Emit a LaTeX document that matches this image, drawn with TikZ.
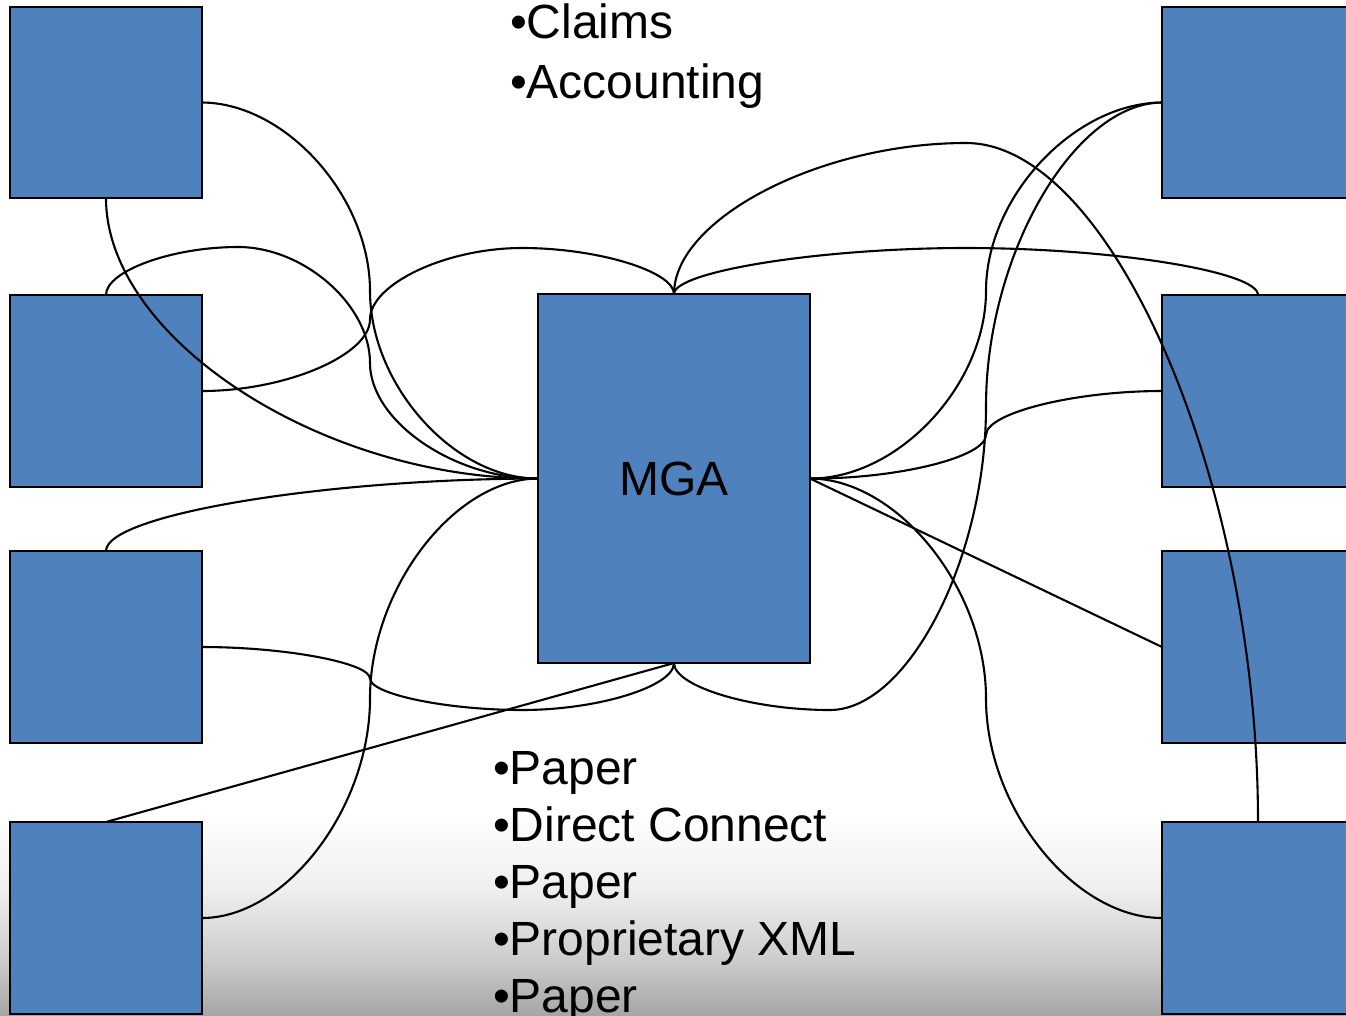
\documentclass[tikz,border=0pt]{standalone}
\usepackage{fontspec}
\setmainfont{Liberation Sans}
\definecolor{boxblue}{HTML}{4F81BD}
\definecolor{bgA}{HTML}{EEEEEE}
\definecolor{bgB}{HTML}{CCCCCC}
\definecolor{bgC}{HTML}{A5A5A5}
\tikzset{
  box/.style={draw=black, line width=2.2pt, fill=boxblue, minimum width=192pt, minimum height=192pt, inner sep=0pt, outer sep=0pt},
  conn/.style={draw=black, line width=2.1pt},
  lbl/.style={anchor=base west, inner sep=0pt, outer sep=0pt, font=\fontsize{48}{56}\selectfont}
}
\begin{document}
\begin{tikzpicture}[x=1pt,y=-1pt]
\clip (0,0) rectangle (1346,1015);
\fill[white] (0,0) rectangle (1346,1015);
\shade[top color=white, bottom color=bgA] (0,815) rectangle (1346,890.5);
\shade[top color=bgA, bottom color=bgB] (0,890) rectangle (1346,960.5);
\shade[top color=bgB, bottom color=bgC] (0,960) rectangle (1346,1015);

% boxes
\node[box, minimum height=191pt] (tl) at (106,102.5) {};
\node[box] (l2) at (106,391) {};
\node[box] (l3) at (106,647) {};
\node[box] (l4) at (106,918) {};
\node[box, minimum height=191pt] (r1) at (1258,102.5) {};
\node[box] (r2) at (1258,391) {};
\node[box] (r3) at (1258,647) {};
\node[box] (r4) at (1258,918) {};
\node[box, minimum width=272pt, minimum height=369pt, font=\fontsize{48}{56}\selectfont] (mga) at (674,478.5) {\raisebox{-2pt}{MGA}};

% left connectors
\draw[conn] (tl.east) .. controls (286,103) and (370,197) .. (370,291) .. controls (370,385) and (454,479) .. (mga.west);
\draw[conn] (tl.south) .. controls (106,338.5) and (322,479) .. (mga.west);
\draw[conn] (l2.north) .. controls (106,271) and (172,247) .. (238,247) .. controls (304,247) and (370,305) .. (370,363) .. controls (370,421) and (454,479) .. (mga.west);
\draw[conn] (l2.east) .. controls (286,391) and (370,355) .. (370,319.5) .. controls (370,284) and (446,248) .. (522,248) .. controls (598,248) and (674,271.5) .. (mga.north);
\draw[conn] (l3.north) .. controls (106,515) and (322,479) .. (mga.west);
\draw[conn] (l3.east) .. controls (286,647) and (370,663) .. (370,678.5) .. controls (370,694) and (446,710) .. (522,710) .. controls (598,710) and (674,686.5) .. (mga.south);
\draw[conn] (l4.north) -- (mga.south);
\draw[conn] (l4.east) .. controls (286,918) and (370,808) .. (370,698.5) .. controls (370,589) and (454,479) .. (mga.west);

% right connectors
\draw[conn] (r1.west) .. controls (1074,103) and (986,197) .. (986,291) .. controls (986,385) and (898,479) .. (mga.east);
\draw[conn] (r1.west) .. controls (1074,103) and (986,255) .. (986,406.5) .. controls (986,558) and (908,710) .. (830,710) .. controls (752,710) and (674,686.5) .. (mga.south);
\draw[conn] (r2.north) .. controls (1258,271.5) and (1112,248) .. (966,248) .. controls (820,248) and (674,271.5) .. (mga.north);
\draw[conn] (mga.north) .. controls (674,219) and (820,143) .. (966,143) .. controls (1112,143) and (1258,483) .. (r4.north);
\draw[conn] (r2.west) .. controls (1074,391) and (986,413) .. (986,435) .. controls (986,457) and (898,479) .. (mga.east);
\draw[conn] (mga.east) -- (r3.west);
\draw[conn] (mga.east) .. controls (898,479) and (986,588.75) .. (986,698.5) .. controls (986,808) and (1074,918) .. (r4.west);

% texts
\node[lbl] (claims) at (510,38) {•Claims};
\node[lbl] (acct) at (510,98) {•Accounting};
\node[lbl] (pa) at (493,784) {•Paper};
\node[lbl] (dc) at (493,841) {•Direct Connect};
\node[lbl] (pb) at (493,898) {•Paper};
\node[lbl] (px) at (493,955) {•Proprietary XML};
\node[lbl] (pc) at (493,1012) {•Paper};
\end{tikzpicture}
\end{document}
